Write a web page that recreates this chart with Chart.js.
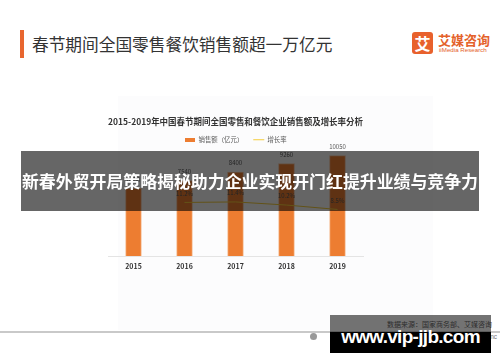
<!DOCTYPE html>
<html>
<head>
<meta charset="utf-8">
<script src="https://cdn.jsdelivr.net/npm/chart.js@4.4.1/dist/chart.umd.min.js"></script>
<style>
  body { margin: 0; width: 500px; height: 362px; background: #fff; position: relative; overflow: hidden;
         font-family: "Noto Sans CJK SC", "Noto Sans", sans-serif; }
  .abs { position: absolute; white-space: nowrap; }
  #accent { left: 20px; top: 30px; width: 4px; height: 28px; background: #e8662f; }
  #headTitle { left: 32px; top: 33px; font-size: 16.7px; line-height: 22px; color: #333; }
  #logoBox { left: 412px; top: 32px; width: 21px; height: 22px; background: #e8612c; border-radius: 3px;
             color: #fff; font-size: 16px; font-weight: bold; line-height: 22px; text-align: center; }
  #logoCn { left: 438px; top: 32px; font-size: 13px; line-height: 16px; font-weight: bold; color: #e4622b; }
  #logoEn { left: 439px; top: 46px; font-size: 6.2px; line-height: 8px; color: #e4622b; font-family: "Liberation Sans", sans-serif; }
  #imgBg { left: 118px; top: 96px; width: 315px; height: 234px; background: #fcfcfd; }
  #wrap { left: 0; top: 108px; width: 500px; height: 178px; }
  #source { right: 8px; top: 319px; font-size: 7px; line-height: 10px; color: #666; }
  #rule { left: 0; top: 331px; width: 500px; height: 1.5px; background: #c9c9c9; }
  #url { right: 3px; top: 332px; font-size: 6.5px; line-height: 9px; color: #777; font-family: "Liberation Sans", sans-serif; }
  #urlIcon { left: 310px; top: 333px; width: 7px; height: 7px; border-radius: 50%; background: #999; }
  #banner { left: 21px; top: 151px; width: 458px; height: 60px; background: rgba(0,0,0,0.6);
            color: #fff; font-size: 16.9px; font-weight: bold; line-height: 60px; text-align: center; }
  #markTop { left: 330px; top: 315px; width: 161px; height: 17px; background: rgba(0,0,0,0.55); }
  #markBot { left: 330px; top: 332px; width: 161px; height: 21px; background: #000; }
  #markText { left: 330px; top: 325px; width: 161px; text-align: center; color: #fff; font-weight: bold;
              font-size: 19px; line-height: 24px; letter-spacing: -0.7px; font-family: "Liberation Sans", sans-serif; }
</style>
</head>
<body>
<div class="abs" id="accent"></div>
<div class="abs" id="headTitle">春节期间全国零售餐饮销售额超一万亿元</div>
<div class="abs" id="logoBox">艾</div>
<div class="abs" id="logoCn">艾媒咨询</div>
<div class="abs" id="logoEn">iiMedia Research</div>
<div class="abs" id="imgBg"></div>
<div class="abs" id="wrap"><canvas id="chart"></canvas></div>
<div class="abs" id="source">数据来源：国家商务部、艾媒咨询</div>
<div class="abs" id="rule"></div>
<div class="abs" id="urlIcon"></div>
<div class="abs" id="url">http://www.iimedia.cn &nbsp;©2019 iiMedia Research Inc</div>
<div class="abs" id="banner">新春外贸开局策略揭秘助力企业实现开门红提升业绩与竞争力</div>
<div class="abs" id="markTop"></div>
<div class="abs" id="markBot"></div>
<div class="abs" id="markText">www.vip-jjb.com</div>

<script>
// chart data
const years = ['2015', '2016', '2017', '2018', '2019'];
const sales = [6780, 7540, 8400, 9260, 10050];       // 销售额（亿元）
const growth = [null, 11.2, 11.4, 10.2, 8.5];        // 增长率 (%)
const seriesNames = ['销售额（亿元）', '增长率'];
const chartTitle = '2015-2019年中国春节期间全国零售和餐饮企业销售额及增长率分析';

const ORANGE = '#ED7D31';
const YELLOW = '#F5CD3A';
const FONT = '"Noto Sans CJK SC", "Noto Sans", sans-serif';

// small orange swatch used as the bar's legend marker
const swatch = document.createElement('canvas');
swatch.width = 10;
swatch.height = 4;
const sctx = swatch.getContext('2d');
sctx.fillStyle = ORANGE;
sctx.fillRect(0, 0, 10, 4);

// value labels above bars and line points
const valueLabels = {
    id: 'valueLabels',
    afterDatasetsDraw(chart) {
        const ctx = chart.ctx;
        ctx.save();
        ctx.font = '6px ' + FONT;
        ctx.fillStyle = '#595959';
        ctx.textAlign = 'center';
        ctx.textBaseline = 'middle';
        chart.data.datasets.forEach((ds, i) => {
            chart.getDatasetMeta(i).data.forEach((el, j) => {
                const v = ds.data[j];
                if (v == null) return;
                const txt = ds.type === 'line' ? v.toFixed(1) + '%' : String(v);
                ctx.fillText(txt, el.x, el.y - 9);
            });
        });
        ctx.restore();
    }
};

const ctx = document.getElementById('chart').getContext('2d');
new Chart(ctx, {
    data: {
        labels: years,
        datasets: [
            {
                type: 'line',
                label: seriesNames[1],
                data: growth,
                yAxisID: 'y1',
                borderColor: YELLOW,
                backgroundColor: YELLOW,
                borderWidth: 1,
                pointRadius: 0,
                tension: 0,
                order: 0
            },
            {
                type: 'bar',
                label: seriesNames[0],
                data: sales,
                yAxisID: 'y',
                backgroundColor: ORANGE,
                borderColor: '#F7C7A3',
                borderWidth: 1,
                barThickness: 16,
                order: 1
            }
        ]
    },
    options: {
        responsive: true,
        maintainAspectRatio: false,
        animation: false,
        layout: { padding: { left: 108, right: 137, top: 0, bottom: 9.6 } },
        scales: {
            x: {
                grid: { display: false, drawTicks: false },
                border: { display: true, color: '#e4e4e4', width: 1 },
                ticks: { color: '#333', padding: 6, font: { family: FONT, size: 7, weight: 'bold' } }
            },
            y: {
                display: false,
                min: 0,
                max: 10955
            },
            y1: {
                display: false,
                min: -9.4,
                max: 32.7
            }
        },
        plugins: {
            title: {
                display: true,
                text: chartTitle,
                color: '#333',
                font: { family: FONT, size: 8.8, weight: 'bold' },
                padding: { top: 8, bottom: 0 }
            },
            legend: {
                display: true,
                position: 'top',
                reverse: true,
                maxHeight: 20,
                labels: {
                    usePointStyle: true,
                    pointStyleWidth: 11,
                    padding: 10,
                    color: '#595959',
                    font: { family: FONT, size: 6.4 },
                    generateLabels(chart) {
                        const items = Chart.defaults.plugins.legend.labels.generateLabels(chart);
                        items.forEach(it => {
                            if (it.datasetIndex === 1) {
                                it.pointStyle = swatch;
                            } else {
                                it.pointStyle = 'line';
                                it.strokeStyle = YELLOW;
                                it.lineWidth = 1;
                            }
                        });
                        return items;
                    }
                }
            },
            tooltip: { enabled: false }
        }
    },
    plugins: [valueLabels]
});
</script>
</body>
</html>
